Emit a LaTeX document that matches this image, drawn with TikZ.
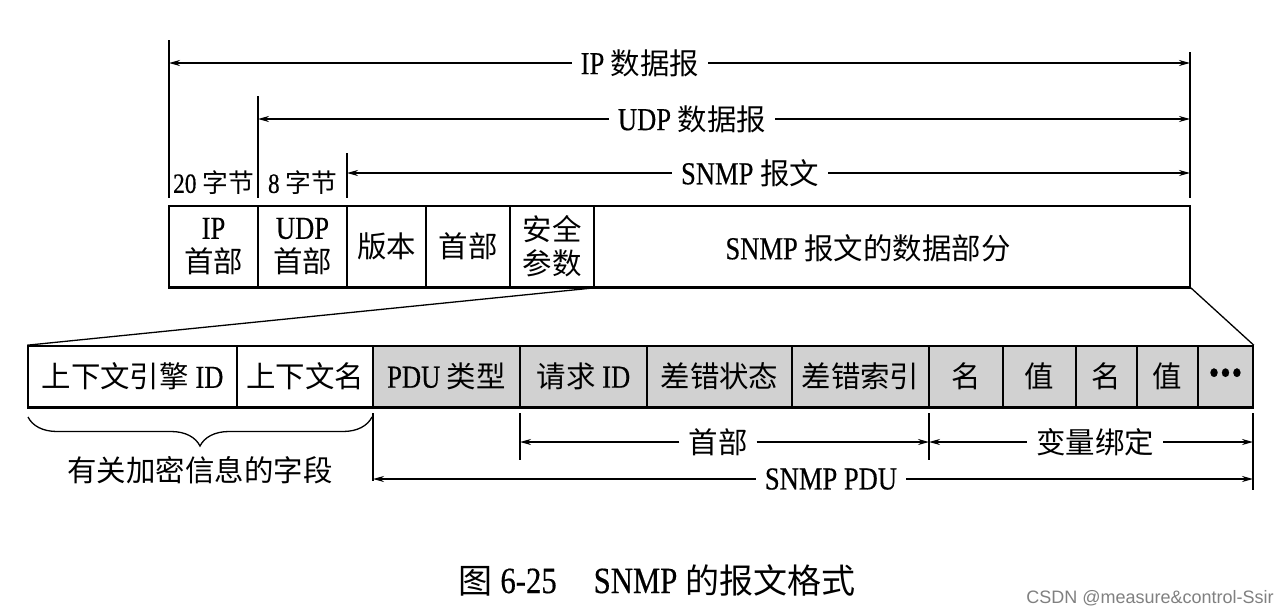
\documentclass[tikz,border=0pt]{standalone}
\usepackage{fontspec}
\setmainfont{Liberation Serif}[FakeStretch=0.83, FakeBold=0.4]
\newfontfamily\cjk{Noto Sans CJK SC}[Scale=0.92]
\newfontfamily\wmfont{Liberation Sans}
\usetikzlibrary{arrows.meta,decorations.pathreplacing}
\newcommand\zh[1]{{\cjk #1}}
\begin{document}
\begin{tikzpicture}[x=1pt,y=-1pt,
  every node/.style={font=\fontsize{32}{34}\selectfont},
  small/.style={font=\fontsize{28}{30}\selectfont},
  cell/.style={draw, line width=1.6pt, minimum height=81pt, inner sep=0pt, align=center},
  bcell/.style={draw, line width=1.6pt, minimum height=61pt, inner sep=0pt, align=center},
  shadecell/.style={bcell, fill=black!18},
  lbl/.style={inner xsep=9pt, inner ysep=0pt},
  tickline/.style={line width=1.4pt},
  arr/.style={line width=1.5pt, -{Stealth[length=11pt,width=6pt]}},
  thin/.style={line width=1.3pt},
]
\path[use as bounding box, fill=white] (0,0) rectangle (1280,613);

% ---------- top ticks ----------
\coordinate (ipT) at (169,40);   \coordinate (ipB) at (169,198);
\coordinate (udT) at (258,96);   \coordinate (udB) at (258,198);
\coordinate (snT) at (347,153);  \coordinate (snB) at (347,198);
\coordinate (rtT) at (1190,52);  \coordinate (rtB) at (1190,198);
\draw[tickline] (ipT) -- (ipB);
\draw[tickline] (udT) -- (udB);
\draw[tickline] (snT) -- (snB);
\draw[tickline] (rtT) -- (rtB);

\coordinate (ipA) at (169,63);  \coordinate (ipZ) at (1190,63);
\coordinate (udA) at (258,119); \coordinate (udZ) at (1190,119);
\coordinate (snA) at (347,173); \coordinate (snZ) at (1190,173);

\node[lbl] (iplab) at (640,63) {IP \zh{数据报}};
\node[lbl] (udlab) at (692,119) {UDP \zh{数据报}};
\node[lbl] (snlab) at (750,173) {SNMP \zh{报文}};
\draw[arr] (iplab) -- (ipA);  \draw[arr] (iplab) -- (ipZ);
\draw[arr] (udlab) -- (udA);  \draw[arr] (udlab) -- (udZ);
\draw[arr] (snlab) -- (snA);  \draw[arr] (snlab) -- (snZ);

\node[small] (b20) at (213.5,183) {20 \zh{字节}};
\node[small] (b8) at (302.5,183) {8 \zh{字节}};

% ---------- top boxes ----------
\node[cell, minimum width=89pt] (c1) at (213.5,246.5) {IP\\\zh{首部}};
\node[cell, minimum width=89pt] (c2) at (302.5,246.5) {UDP\\\zh{首部}};
\node[cell, minimum width=79pt] (c3) at (386.5,246.5) {\zh{版本}};
\node[cell, minimum width=84pt] (c4) at (468,246.5) {\zh{首部}};
\node[cell, minimum width=84pt] (c5) at (552,246.5) {\zh{安全}\\\zh{参数}};
\node[cell, minimum width=596pt] (c6) at (892,246.5) {};
\node (c6t) at (868,248) {SNMP \zh{报文的数据部分}};
\draw[line width=3.2pt] (c1.south west) -- (c6.south east);

% ---------- bottom boxes ----------
\node[bcell, minimum width=209pt] (b1) at (132.5,376.5) {\zh{上下文引擎} ID};
\node[bcell, minimum width=136pt] (b2) at (305,376.5) {\zh{上下文名}};
\node[shadecell, minimum width=147pt] (b3) at (446.5,376.5) {PDU \zh{类型}};
\node[shadecell, minimum width=127pt] (b4) at (583.5,376.5) {\zh{请求} ID};
\node[shadecell, minimum width=145pt] (b5) at (719.5,376.5) {\zh{差错状态}};
\node[shadecell, minimum width=137pt] (b6) at (860.5,376.5) {\zh{差错索引}};
\node[shadecell, minimum width=74pt] (b7) at (966,376.5) {\zh{名}};
\node[shadecell, minimum width=73pt] (b8) at (1039.5,376.5) {\zh{值}};
\node[shadecell, minimum width=61pt] (b9) at (1106.5,376.5) {\zh{名}};
\node[shadecell, minimum width=61pt] (b10) at (1167.5,376.5) {\zh{值}};
\node[shadecell, minimum width=55pt] (b11) at (1225.5,376.5) {{\fontsize{36}{36}\selectfont\textbullet\kern1pt\textbullet\kern1pt\textbullet}};
\draw[line width=3.2pt] (b1.south west) -- (b11.south east);

% ---------- expansion lines ----------
\draw[thin] (c5.south east) -- (b1.north west);
\draw[thin] (c6.south east) -- (b11.north east);

% ---------- brace ----------
\coordinate (brL) at (28,417);
\coordinate (brR) at (372,417);
\draw[thin, decorate, decoration={brace, mirror, amplitude=29pt}] (brL) -- (brR);
\node (brlab) at (200,470) {\zh{有关加密信息的字段}};

% ---------- bottom ticks & arrows ----------
\coordinate (t1T) at (373,413);  \coordinate (t1B) at (373,481);
\coordinate (t2T) at (520,413);  \coordinate (t2B) at (520,460);
\coordinate (t3T) at (929,413);  \coordinate (t3B) at (929,460);
\coordinate (t4T) at (1253,413); \coordinate (t4B) at (1253,490);
\draw[tickline] (t1T) -- (t1B);
\draw[tickline] (t2T) -- (t2B);
\draw[tickline] (t3T) -- (t3B);
\draw[tickline] (t4T) -- (t4B);

\coordinate (hdA) at (520,442);  \coordinate (hdZ) at (929,442);
\coordinate (vbA) at (929,442);  \coordinate (vbZ) at (1253,442);
\coordinate (pdA) at (373,479);  \coordinate (pdZ) at (1253,479);
\node[lbl] (hdlab) at (718,442) {\zh{首部}};
\node[lbl] (vblab) at (1095,442) {\zh{变量绑定}};
\node[lbl] (pdlab) at (831,479) {SNMP PDU};
\draw[arr] (hdlab) -- (hdA);  \draw[arr] (hdlab) -- (hdZ);
\draw[arr] (vblab) -- (vbA);  \draw[arr] (vblab) -- (vbZ);
\draw[arr] (pdlab) -- (pdA);  \draw[arr] (pdlab) -- (pdZ);

% ---------- caption ----------
\node (cap) at (657,580) {\fontsize{37}{40}\selectfont\zh{图} 6-25\hspace{1em}SNMP \zh{的报文格式}};
\node[text=black!50] (wm) at (1150,598) {\wmfont\fontsize{18}{20}\selectfont CSDN @measure\&control-Ssir};
\end{tikzpicture}
\end{document}
